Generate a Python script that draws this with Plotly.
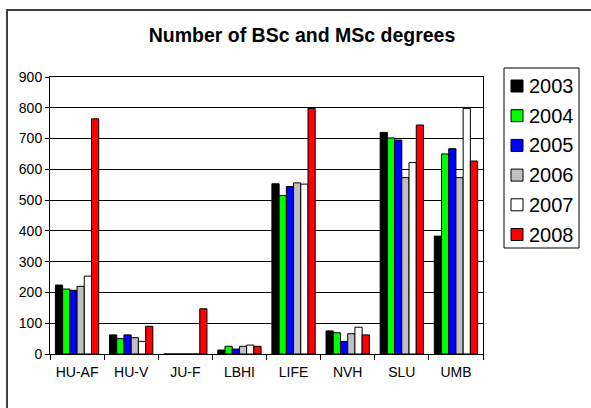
import plotly.graph_objects as go

categories = ["HU-AF", "HU-V", "JU-F", "LBHI", "LIFE", "NVH", "SLU", "UMB"]
years = ["2003", "2004", "2005", "2006", "2007", "2008"]
v2003 = [224, 62, 0, 13, 553, 75, 720, 383]
v2004 = [211, 50, 0, 25, 515, 69, 702, 650]
v2005 = [207, 62, 0, 16, 544, 41, 695, 667]
v2006 = [220, 53, 0, 25, 556, 66, 573, 573]
v2007 = [253, 41, 0, 29, 552, 87, 622, 798]
v2008 = [764, 90, 147, 25, 798, 62, 744, 627]
series = [v2003, v2004, v2005, v2006, v2007, v2008]
colors = ["#000000", "#00FF00", "#0000FF", "#C0C0C0", "#FFFFFF", "#FF0000"]

FONT = "Arial, Liberation Sans, sans-serif"

fig = go.Figure()
for name, vals, col in zip(years, series, colors):
    fig.add_trace(go.Bar(
        x=categories, y=vals, name=name,
        marker=dict(color=col, line=dict(color="#000000", width=1)),
        showlegend=False,
    ))

W, H = 591, 408
L, R, T, B = 50, 483, 77, 354
pw, ph = R - L, B - T

def px(x):
    return (x - L) / pw

def py(y):
    return (B - y) / ph

shapes = [dict(type="rect", xref="paper", yref="paper",
               x0=px(7), x1=px(640), y0=py(440), y1=py(10),
               line=dict(color="#404040", width=2), layer="below")]
annotations = []

# legend (drawn as a box with swatches and labels)
LG_X0, LG_X1, LG_Y0, LG_Y1 = 504, 579, 68, 248
shapes.append(dict(type="rect", xref="paper", yref="paper",
                   x0=px(LG_X0), x1=px(LG_X1), y0=py(LG_Y1), y1=py(LG_Y0),
                   line=dict(color="#000000", width=1), fillcolor="white", layer="above"))
for i, (name, col) in enumerate(zip(years, colors)):
    cy = 86 + i * 29.7
    shapes.append(dict(type="rect", xref="paper", yref="paper",
                       x0=px(511), x1=px(523), y0=py(cy + 6), y1=py(cy - 6),
                       line=dict(color="#000000", width=1), fillcolor=col, layer="above"))
    annotations.append(dict(text=name, xref="paper", yref="paper",
                            x=px(527), y=py(cy), xanchor="left", yanchor="middle",
                            showarrow=False, font=dict(size=20, family=FONT, color="#000000")))

fig.update_layout(
    width=W, height=H,
    margin=dict(l=L, r=W - R, t=T, b=H - B, pad=0),
    paper_bgcolor="white", plot_bgcolor="white",
    barmode="group", bargap=0.2, bargroupgap=0,
    showlegend=False,
    font=dict(family=FONT, color="#000000", size=14),
    title=dict(text="<b>Number of BSc and MSc degrees</b>", x=302 / W, xanchor="center",
               y=1 - 35 / H, yanchor="middle", font=dict(size=19.5, family=FONT)),
    xaxis=dict(showline=True, linecolor="#000000", linewidth=1, mirror=True,
               ticks="outside", ticklen=5, tickcolor="#000000", tickson="boundaries",
               ticklabelstandoff=5,
               tickfont=dict(size=14, family=FONT), showgrid=False),
    yaxis=dict(range=[0, 900], dtick=100, showline=True, linecolor="#000000", linewidth=1,
               mirror=True, ticks="outside", ticklen=4, tickcolor="#000000",
               showgrid=True, gridcolor="#000000", gridwidth=1, zeroline=False,
               tickfont=dict(size=14, family=FONT)),
    shapes=shapes,
    annotations=annotations,
)

fig.write_html("out.html", config={"displayModeBar": False},
               post_script="document.body.style.margin='0';document.body.style.overflow='hidden';")
